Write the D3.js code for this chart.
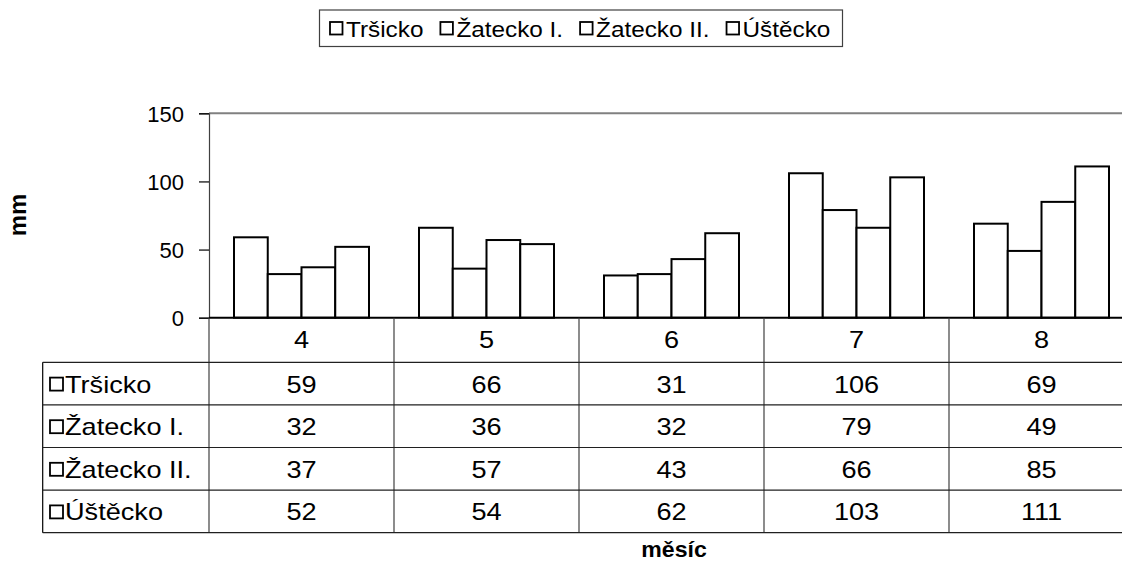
<!DOCTYPE html>
<html><head><meta charset="utf-8">
<script src="https://cdn.jsdelivr.net/npm/d3@7"></script>
<style>
html,body{margin:0;padding:0;background:#fff;overflow:hidden;}
svg{display:block;font-family:"Liberation Sans",Arial,sans-serif;}
</style></head>
<body>
<svg id="chart" width="1122" height="565"></svg>
<script>
const categories = ["4", "5", "6", "7", "8"];
const seriesNames = ["Tršicko", "Žatecko I.", "Žatecko II.", "Úštěcko"];
const trsicko = [59, 66, 31, 106, 69];
const zateckoI = [32, 36, 32, 79, 49];
const zateckoII = [37, 57, 43, 66, 85];
const ustecko = [52, 54, 62, 103, 111];
const yTicks = [0, 50, 100, 150];
const yTitle = "mm";
const xTitle = "měsíc";

const seriesValues = [trsicko, zateckoI, zateckoII, ustecko];

const svg = d3.select("#chart");
const plotLeft = 209, plotRight = 1134, plotTop = 113.3, plotBottom = 317.7;

// helper: horizontally stretched text (the reference glyphs are wide)
function sText(g, x, y, str, opts = {}) {
  const sx = opts.sx || 1;
  const t = g.append("text")
    .attr("transform", `translate(${x},${y}) scale(${sx},1)`)
    .attr("font-size", opts.fs || 20)
    .attr("text-anchor", opts.anchor || "start")
    .attr("font-weight", opts.weight || "normal")
    .attr("fill", "#000")
    .text(str);
  return t;
}

const x = d3.scaleBand().domain(categories).range([plotLeft, plotRight]).paddingInner(0).paddingOuter(0);
const xs = d3.scaleBand().domain(seriesNames).range([25, x.bandwidth() - 25]).padding(0);
const y = d3.scaleLinear().domain([0, 150]).range([plotBottom, plotTop]);

// top gridline
svg.append("line").attr("x1", plotLeft).attr("x2", plotRight)
  .attr("y1", y(150)).attr("y2", y(150)).attr("stroke", "#808080").attr("stroke-width", 2);

// y axis
const yAxis = svg.append("g").attr("transform", `translate(${plotLeft},0)`)
  .call(d3.axisLeft(y).tickValues(yTicks).tickSize(10).tickPadding(15).tickFormat(d3.format("d")));
yAxis.attr("font-size", 22).attr("font-family", "'Liberation Sans', Arial, sans-serif");
yAxis.select(".domain").attr("stroke", "#404040").attr("stroke-width", 1.2);
yAxis.selectAll(".tick line").attr("stroke", "#000").attr("stroke-width", 1.2);
yAxis.selectAll(".tick text").attr("fill", "#000").attr("dy", "0.36em");

// bars
const bars = [];
seriesNames.forEach((s, si) => {
  categories.forEach((c, ci) => bars.push({s, c, v: seriesValues[si][ci]}));
});
svg.append("g").selectAll("rect").data(bars).join("rect")
  .attr("x", d => x(d.c) + xs(d.s))
  .attr("y", d => y(d.v))
  .attr("width", xs.bandwidth())
  .attr("height", d => y(0) - y(d.v))
  .attr("fill", "#fff").attr("stroke", "#000").attr("stroke-width", 2);

// table
const rowTop = plotBottom;
const headerH = 44.6;
const rowH = 42.6;
const tableLeft = 42.7;
const tableBottom = rowTop + headerH + rowH * seriesNames.length;
const tg = svg.append("g");
const tfs = 23, tsx = 1.18;

tg.append("line").attr("x1", plotLeft).attr("x2", plotRight).attr("y1", plotBottom).attr("y2", plotBottom)
  .attr("stroke", "#000").attr("stroke-width", 2);

categories.forEach(c => {
  tg.append("line").attr("x1", x(c)).attr("x2", x(c)).attr("y1", plotBottom).attr("y2", tableBottom)
    .attr("stroke", "#404040").attr("stroke-width", 1.2);
});
tg.append("line").attr("x1", plotRight).attr("x2", plotRight).attr("y1", plotBottom).attr("y2", tableBottom)
  .attr("stroke", "#404040").attr("stroke-width", 1.2);
tg.append("line").attr("x1", tableLeft).attr("x2", tableLeft).attr("y1", rowTop + headerH).attr("y2", tableBottom)
  .attr("stroke", "#000").attr("stroke-width", 1.2);

for (let i = 0; i <= seriesNames.length; i++) {
  const yy = rowTop + headerH + rowH * i;
  tg.append("line").attr("x1", tableLeft).attr("x2", plotRight).attr("y1", yy).attr("y2", yy)
    .attr("stroke", "#202020").attr("stroke-width", 1.2);
}

categories.forEach(c => {
  sText(tg, x(c) + x.bandwidth() / 2, rowTop + headerH / 2 + 8, c, {fs: tfs, sx: tsx, anchor: "middle"});
});

seriesNames.forEach((s, si) => {
  const cy = rowTop + headerH + rowH * si + rowH / 2;
  tg.append("rect").attr("x", 50).attr("y", cy - 6).attr("width", 13).attr("height", 13)
    .attr("fill", "#fff").attr("stroke", "#000").attr("stroke-width", 1.8);
  sText(tg, 65, cy + 9, s, {fs: tfs, sx: tsx});
  categories.forEach((c, ci) => {
    sText(tg, x(c) + x.bandwidth() / 2, cy + 9, seriesValues[si][ci], {fs: tfs, sx: tsx, anchor: "middle"});
  });
});

// legend
const lg = svg.append("g");
const legX = 319.5, legY = 10, legW = 523, legH = 36.5;
lg.append("rect").attr("x", legX).attr("y", legY).attr("width", legW).attr("height", legH)
  .attr("fill", "#fff").attr("stroke", "#404040").attr("stroke-width", 1.2);
const lsx = 1.105;
let cx = 330;
seriesNames.forEach(s => {
  lg.append("rect").attr("x", cx).attr("y", legY + 12).attr("width", 12.5).attr("height", 12.5)
    .attr("fill", "#fff").attr("stroke", "#000").attr("stroke-width", 1.8);
  const t = sText(lg, cx + 16, legY + 26.5, s, {fs: 22, sx: lsx});
  cx += 16 + t.node().getComputedTextLength() * lsx + 17;
});

// axis titles
svg.append("text").attr("transform", "translate(26,215) rotate(-90)")
  .attr("text-anchor", "middle").attr("font-size", 24).attr("font-weight", "bold").text(yTitle);
sText(svg, 674, 557, xTitle, {fs: 22, sx: 1.05, anchor: "middle", weight: "bold"});
</script>
</body></html>
